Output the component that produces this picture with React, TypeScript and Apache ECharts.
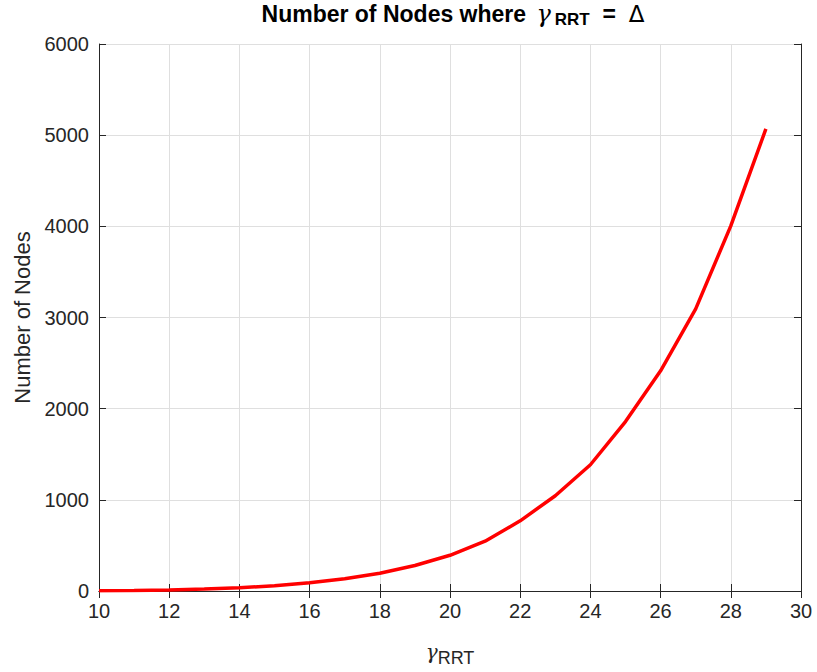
import React, { useEffect, useRef } from "react";
import * as echarts from "echarts";

const gammaValues = [10, 11, 12, 13, 14, 15, 16, 17, 18, 19, 20, 21, 22, 23, 24, 25, 26, 27, 28, 29];
const nodeCounts = [3, 6, 12, 22, 36, 58, 90, 135, 195, 280, 392, 546, 770, 1045, 1385, 1858, 2415, 3095, 4005, 5070];
const xTicks = [10, 12, 14, 16, 18, 20, 22, 24, 26, 28, 30];
const yTicks = [0, 1000, 2000, 3000, 4000, 5000, 6000];

const FONT = "'Liberation Sans', Arial, Helvetica, sans-serif";
const AX = "#262626";

export default function App() {
  const ref = useRef<HTMLDivElement>(null);
  useEffect(() => {
    if (!ref.current) return;
    const chart = echarts.init(ref.current, undefined, { renderer: "svg" });
    const common = {
      axisLine: { show: true, lineStyle: { color: AX, width: 1 } },
      axisTick: { show: true, inside: true, length: 7, lineStyle: { color: AX } },
      splitLine: { show: false },
    };
    chart.setOption({
      animation: false,
      backgroundColor: "#ffffff",
      title: {
        text: "{b|Number of Nodes where }{g|γ}{sub|RRT}{b|  =  }{d|Δ}",
        left: 448,
        textAlign: "center",
        top: -6,
        textStyle: {
          fontFamily: FONT,
          fontSize: 23,
          fontWeight: "bold",
          color: "#000",
          rich: {
            g: { fontFamily: "'DejaVu Serif', serif", fontSize: 24, fontWeight: "normal", color: "#000", fontStyle: "italic", padding: [0, 0, 0, 4] },
            sub: { fontFamily: FONT, fontSize: 17, fontWeight: "bold", color: "#000", verticalAlign: "bottom", padding: [12, 0, 0, 4] },
            b: { fontFamily: FONT, fontSize: 23, fontWeight: "bold", color: "#000" },
            d: { fontFamily: "'DejaVu Sans', sans-serif", fontSize: 23, fontWeight: "normal", color: "#000" },
          },
        },
      },
      grid: { left: 99, right: 16, top: 44, bottom: 79, containLabel: false },
      xAxis: [
        {
          type: "value",
          min: 10,
          max: 30,
          interval: 2,
          ...common,
          splitLine: { show: true, lineStyle: { color: "#dfdfdf", width: 1 } },
          axisLabel: { color: AX, fontFamily: FONT, fontSize: 20, margin: 10 },
          name: "{g|γ}{s|RRT}",
          nameLocation: "middle",
          nameGap: 46,
          nameTextStyle: {
            rich: {
              g: { fontFamily: "'DejaVu Serif', serif", fontSize: 20, color: AX, fontStyle: "italic" },
              s: { fontFamily: FONT, fontSize: 18, color: AX, verticalAlign: "bottom", padding: [12, 0, 0, 0] },
            },
          },
        },
        {
          type: "value",
          position: "top",
          min: 10,
          max: 30,
          interval: 2,
          ...common,
          axisLabel: { show: false },
        },
      ],
      yAxis: [
        {
          type: "value",
          min: 0,
          max: 6000,
          interval: 1000,
          ...common,
          splitLine: { show: true, lineStyle: { color: "#dfdfdf", width: 1 } },
          axisLabel: { color: AX, fontFamily: FONT, fontSize: 20, margin: 10, formatter: (v: number) => String(v) },
          name: "Number of Nodes",
          nameLocation: "middle",
          nameGap: 66,
          nameTextStyle: { color: AX, fontFamily: FONT, fontSize: 22 },
        },
        {
          type: "value",
          position: "right",
          min: 0,
          max: 6000,
          interval: 1000,
          ...common,
          axisLabel: { show: false },
        },
      ],
      series: [
        {
          type: "line",
          data: gammaValues.map((g, i) => [g, nodeCounts[i]]),
          showSymbol: false,
          smooth: false,
          lineStyle: { color: "#ff0000", width: 3.5 },
          itemStyle: { color: "#ff0000" },
        },
      ],
    });
    return () => chart.dispose();
  }, []);
  void xTicks;
  void yTicks;
  return <div ref={ref} style={{ position: "fixed", left: 0, top: 0, width: 817, height: 672 }} />;
}
